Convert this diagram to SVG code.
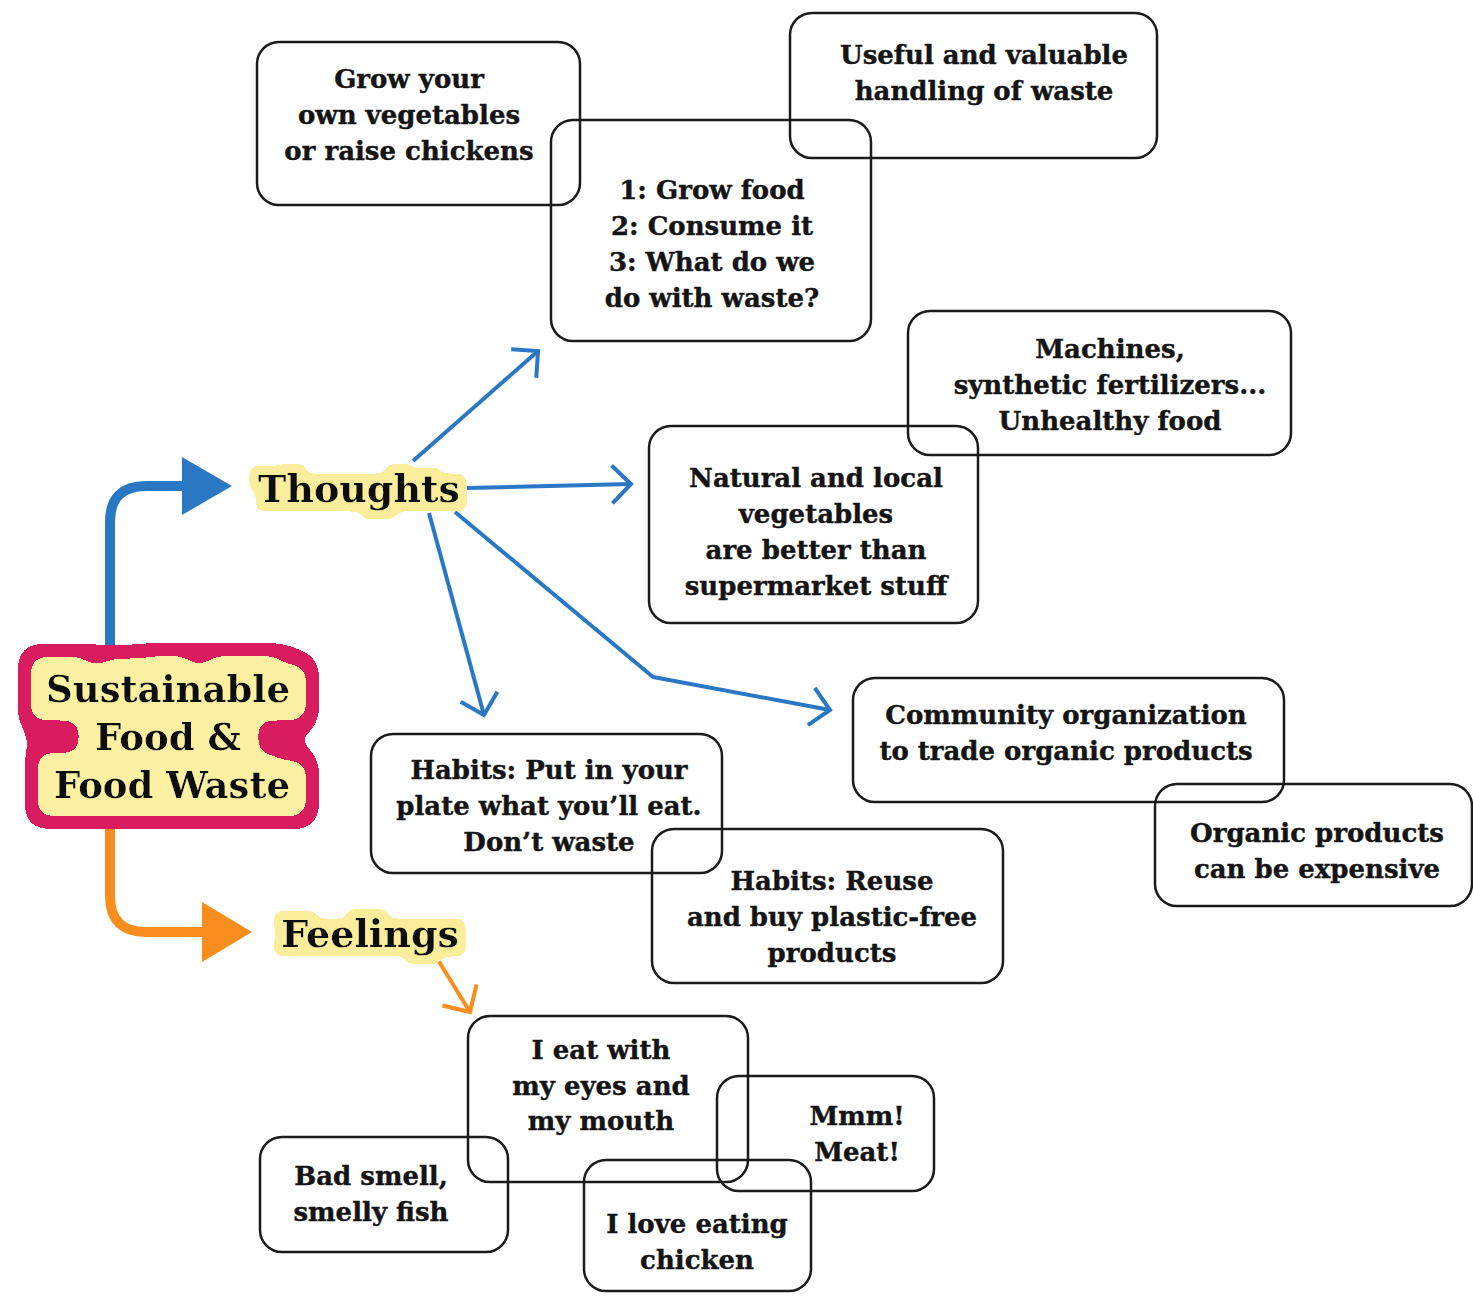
<svg xmlns="http://www.w3.org/2000/svg" width="1473" height="1297" viewBox="0 0 1473 1297">
  <style>
    .box { fill: none; stroke: #1b1b1b; stroke-width: 2.5; }
    .lbl { font-family: "DejaVu Serif", "Liberation Serif", serif; font-weight: bold; font-size: 26px; fill: #141414; stroke: #141414; stroke-width: 0.4; text-anchor: middle; }
    .head { font-family: "DejaVu Serif", "Liberation Serif", serif; font-weight: bold; font-size: 38px; fill: #111; text-anchor: middle; }
    .title { font-family: "DejaVu Serif", "Liberation Serif", serif; font-weight: bold; font-size: 37px; fill: #111; text-anchor: middle; }
    .thin-blue { fill: none; stroke: #2a78c4; stroke-width: 4; stroke-linejoin: round; }
    .thin-orange { fill: none; stroke: #f98d1e; stroke-width: 4; }
    .thick-blue { fill: none; stroke: #2a78c4; stroke-width: 10; }
    .thick-orange { fill: none; stroke: #f98d1e; stroke-width: 10; }
  </style>
  <defs>
    <marker id="chevBlue" markerUnits="userSpaceOnUse" viewBox="-24 -24 30 48" markerWidth="30" markerHeight="48" refX="0" refY="0" orient="auto" overflow="visible">
      <path d="M-19,-19 L0,0 L-19,19" fill="none" stroke="#2a78c4" stroke-width="4" stroke-linejoin="miter"/>
    </marker>
    <marker id="chevOrange" markerUnits="userSpaceOnUse" viewBox="-24 -24 30 48" markerWidth="30" markerHeight="48" refX="0" refY="0" orient="auto" overflow="visible">
      <path d="M-20,-20 L0,0 L-20,20" fill="none" stroke="#f98d1e" stroke-width="4" stroke-linejoin="miter"/>
    </marker>
    <marker id="bigBlue" markerUnits="userSpaceOnUse" viewBox="0 -30 52 60" markerWidth="52" markerHeight="60" refX="0" refY="0" orient="auto" overflow="visible">
      <polygon points="0,-29 50,0 0,29" fill="#2a78c4"/>
    </marker>
    <marker id="bigOrange" markerUnits="userSpaceOnUse" viewBox="0 -31 52 62" markerWidth="52" markerHeight="62" refX="0" refY="0" orient="auto" overflow="visible">
      <polygon points="0,-30 50,0 0,30" fill="#f98d1e"/>
    </marker>
    <!-- blobby yellow core with crimson rim around the title -->
    <filter id="titleBlob" x="-40%" y="-60%" width="180%" height="220%">
      <feMorphology in="SourceAlpha" operator="dilate" radius="31" result="d2"/>
      <feGaussianBlur in="d2" stdDeviation="12" result="b2"/>
      <feComponentTransfer in="b2" result="m2"><feFuncA type="discrete" tableValues="0 1"/></feComponentTransfer>
      <feFlood flood-color="#d91b5e"/>
      <feComposite operator="in" in2="m2" result="rim"/>
      <feMorphology in="SourceAlpha" operator="dilate" radius="18" result="d1"/>
      <feGaussianBlur in="d1" stdDeviation="8" result="b1"/>
      <feComponentTransfer in="b1" result="m1"><feFuncA type="discrete" tableValues="0 1"/></feComponentTransfer>
      <feFlood flood-color="#fcf0a2"/>
      <feComposite operator="in" in2="m1" result="core"/>
      <feMerge>
        <feMergeNode in="rim"/>
        <feMergeNode in="core"/>
        <feMergeNode in="SourceGraphic"/>
      </feMerge>
    </filter>
    <!-- soft yellow highlight behind branch headings -->
    <filter id="halo" x="-20%" y="-50%" width="140%" height="200%">
      <feMorphology in="SourceAlpha" operator="dilate" radius="9" result="d"/>
      <feGaussianBlur in="d" stdDeviation="4.5" result="b"/>
      <feComponentTransfer in="b" result="m"><feFuncA type="discrete" tableValues="0 1"/></feComponentTransfer>
      <feFlood flood-color="#faee9c"/>
      <feComposite operator="in" in2="m" result="hl"/>
      <feMerge>
        <feMergeNode in="hl"/>
        <feMergeNode in="SourceGraphic"/>
      </feMerge>
    </filter>
  </defs>

  <rect width="1473" height="1297" fill="#ffffff"/>

  <g id="connectors">
    <path class="thick-blue" d="M110,660 V522 Q110,486 146,486 H182" marker-end="url(#bigBlue)"/>
    <path class="thick-orange" d="M110,815 V896 Q110,932 146,932 H202" marker-end="url(#bigOrange)"/>
    <path class="thin-blue" d="M413,461 L538,351" marker-end="url(#chevBlue)"/>
    <path class="thin-blue" d="M467,488 L631,484" marker-end="url(#chevBlue)"/>
    <path class="thin-blue" d="M429,513 L484,715" marker-end="url(#chevBlue)"/>
    <path class="thin-blue" d="M455,512 L653,677 L830,710" marker-end="url(#chevBlue)"/>
    <path class="thin-orange" d="M438,960 L470,1012" marker-end="url(#chevOrange)"/>
  </g>

  <g id="center-node" filter="url(#titleBlob)">
    <text class="title" x="168" y="702">Sustainable</text>
    <text class="title" x="168" y="750">Food &amp;</text>
    <text class="title" x="172" y="798">Food Waste</text>
  </g>

  <g id="thoughts" filter="url(#halo)">
    <text class="head" x="359" y="502">Thoughts</text>
  </g>

  <g id="feelings" filter="url(#halo)">
    <text class="head" x="370" y="947">Feelings</text>
  </g>

  <g id="grow-your-own">
    <rect class="box" x="257" y="42" width="323" height="163" rx="22"/>
    <text class="lbl" x="409" y="88">Grow your</text>
    <text class="lbl" x="409" y="124">own vegetables</text>
    <text class="lbl" x="409" y="160">or raise chickens</text>
  </g>

  <g id="food-cycle">
    <rect class="box" x="551" y="120" width="320" height="221" rx="22"/>
    <text class="lbl" x="712" y="199">1: Grow food</text>
    <text class="lbl" x="712" y="235">2: Consume it</text>
    <text class="lbl" x="712" y="271">3: What do we</text>
    <text class="lbl" x="712" y="307">do with waste?</text>
  </g>

  <g id="useful-waste">
    <rect class="box" x="790" y="13" width="367" height="145" rx="22"/>
    <text class="lbl" x="984" y="64">Useful and valuable</text>
    <text class="lbl" x="984" y="100">handling of waste</text>
  </g>

  <g id="machines">
    <rect class="box" x="908" y="311" width="383" height="144" rx="22"/>
    <text class="lbl" x="1110" y="358">Machines,</text>
    <text class="lbl" x="1110" y="394">synthetic fertilizers...</text>
    <text class="lbl" x="1110" y="430">Unhealthy food</text>
  </g>

  <g id="natural-local">
    <rect class="box" x="649" y="426" width="329" height="197" rx="22"/>
    <text class="lbl" x="816" y="487">Natural and local</text>
    <text class="lbl" x="816" y="523">vegetables</text>
    <text class="lbl" x="816" y="559">are better than</text>
    <text class="lbl" x="816" y="595">supermarket stuff</text>
  </g>

  <g id="community">
    <rect class="box" x="853" y="678" width="431" height="124" rx="22"/>
    <text class="lbl" x="1066" y="724">Community organization</text>
    <text class="lbl" x="1066" y="760">to trade organic products</text>
  </g>

  <g id="organic-expensive">
    <rect class="box" x="1155" y="784" width="317" height="122" rx="22"/>
    <text class="lbl" x="1317" y="842">Organic products</text>
    <text class="lbl" x="1317" y="878">can be expensive</text>
  </g>

  <g id="habits-plate">
    <rect class="box" x="371" y="734" width="351" height="139" rx="22"/>
    <text class="lbl" x="549" y="779">Habits: Put in your</text>
    <text class="lbl" x="549" y="815">plate what you’ll eat.</text>
    <text class="lbl" x="549" y="851">Don’t waste</text>
  </g>

  <g id="habits-reuse">
    <rect class="box" x="652" y="829" width="351" height="154" rx="22"/>
    <text class="lbl" x="832" y="890">Habits: Reuse</text>
    <text class="lbl" x="832" y="926">and buy plastic-free</text>
    <text class="lbl" x="832" y="962">products</text>
  </g>

  <g id="eat-with-eyes">
    <rect class="box" x="468" y="1016" width="280" height="166" rx="22"/>
    <text class="lbl" x="601" y="1059">I eat with</text>
    <text class="lbl" x="601" y="1095">my eyes and</text>
    <text class="lbl" x="601" y="1130">my mouth</text>
  </g>

  <g id="mmm-meat">
    <rect class="box" x="717" y="1076" width="217" height="115" rx="22"/>
    <text class="lbl" x="857" y="1125">Mmm!</text>
    <text class="lbl" x="857" y="1161">Meat!</text>
  </g>

  <g id="bad-smell">
    <rect class="box" x="260" y="1137" width="248" height="115" rx="22"/>
    <text class="lbl" x="371" y="1185">Bad smell,</text>
    <text class="lbl" x="371" y="1221">smelly fish</text>
  </g>

  <g id="love-chicken">
    <rect class="box" x="584" y="1160" width="227" height="131" rx="22"/>
    <text class="lbl" x="697" y="1233">I love eating</text>
    <text class="lbl" x="697" y="1269">chicken</text>
  </g>
</svg>
